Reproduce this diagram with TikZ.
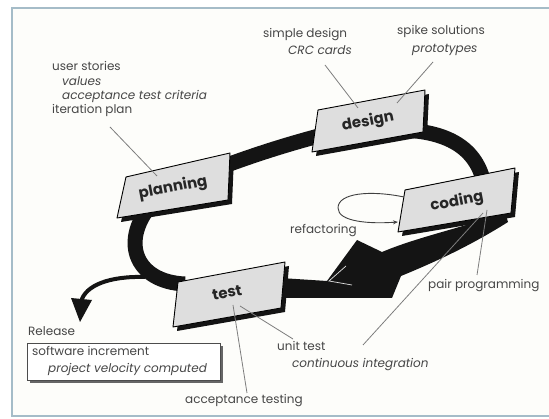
\documentclass[tikz,border=0pt]{standalone}
\usepackage{fontspec}
\setmainfont{Poppins}
\usetikzlibrary{arrows.meta}
\definecolor{frameblue}{RGB}{165,188,200}
\definecolor{paper}{RGB}{253,253,250}
\definecolor{cardfill}{RGB}{222,222,222}
\definecolor{txt}{RGB}{70,70,70}
\definecolor{ptr}{RGB}{125,125,125}
\begin{document}
\begin{tikzpicture}[x=1pt,y=-1pt,
  lbl/.style={font=\fontsize{12}{14}\selectfont, text=txt, inner sep=0pt, anchor=mid west},
  ilbl/.style={lbl, font=\fontsize{12}{14}\selectfont\itshape},
  cardtxt/.style={font=\fontsize{15}{16}\selectfont\bfseries, text=black!85, rotate=11, inner sep=0pt},
  ptrline/.style={draw=ptr, line width=0.8pt},
  band/.style={draw=black!92, line width=15pt},
  cardface/.style={fill=cardfill, draw=black, line width=0.9pt, line join=round},
  cardshadow/.style={fill=black!92}]
\useasboundingbox (0,0) rectangle (549,419);
\fill[white] (0,0) rectangle (549,419);
\draw[frameblue, fill=paper, line width=1.2pt] (12,8) rectangle (600,416);

% loop band
\draw[band] (185,284) .. controls (135,282) and (118,240) .. (155,200);
\draw[band] (200,175) .. controls (240,160) and (280,145) .. (350,128);
\draw[band] (400,130) .. controls (450,131) and (480,150) .. (485,190);
% coding -> test with big arrowhead
\fill[black!92] (265,277) -- (327,281) -- (357,240) -- (382,252)
  .. controls (420,236) and (470,226) .. (505,212) -- (508,222)
  .. controls (470,246) and (435,262) .. (401,276) -- (392,298)
  -- (330,298) -- (265,298) -- cycle;
\draw[white!80!gray, line width=0.7pt] (346,266) -- (329,281) -- (352,285);

% release arrow
\draw[black!92, line width=4pt] (145,277) .. controls (110,276) and (85,285) .. (81,302);
\fill[black!92] (71,298) -- (92,300) -- (80,322) -- cycle;

% cards
\fill[cardshadow] ([shift={(4,4)}]126,177) -- ([shift={(4,4)}]230,153) -- ([shift={(4,4)}]228,200) -- ([shift={(4,4)}]117,218) -- cycle;
\draw[cardface] (126,177) -- (230,153) -- (228,200) -- (117,218) -- cycle;
\node[cardtxt] (planning) at (173,188) {planning};

\fill[cardshadow] ([shift={(4,4)}]318,110) -- ([shift={(4,4)}]425,90) -- ([shift={(4,4)}]423,132) -- ([shift={(4,4)}]312,152) -- cycle;
\draw[cardface] (318,110) -- (425,90) -- (423,132) -- (312,152) -- cycle;
\node[cardtxt] (design) at (368,122) {design};

\fill[cardshadow] ([shift={(4,4)}]405,190) -- ([shift={(4,4)}]515,168) -- ([shift={(4,4)}]511,213) -- ([shift={(4,4)}]398,232) -- cycle;
\draw[cardface] (405,190) -- (515,168) -- (511,213) -- (398,232) -- cycle;
\node[cardtxt] (coding) at (457,202) {coding};

\fill[cardshadow] ([shift={(4,4)}]178,282) -- ([shift={(4,4)}]285,262) -- ([shift={(4,4)}]281,308) -- ([shift={(4,4)}]173,327) -- cycle;
\draw[cardface] (178,282) -- (285,262) -- (281,308) -- (173,327) -- cycle;
\node[cardtxt] (test) at (227,293) {test};

% labels
\node[lbl]  (us)  at (52,68)  {user stories};
\node[ilbl] (val) at (62,83)  {values};
\node[ilbl] (atc) at (62,97)  {acceptance test criteria};
\node[lbl]  (ip)  at (52,111) {iteration plan};
\node[lbl]  (sd)  at (263,35) {simple design};
\node[ilbl] (crc) at (288,52) {CRC cards};
\node[lbl]  (ss)  at (397,32) {spike solutions};
\node[ilbl] (pt)  at (412,50) {prototypes};
\node[lbl]  (ref) at (290,231) {refactoring};
\node[lbl]  (pp)  at (428,286) {pair programming};
\node[lbl]  (ut)  at (277,348) {unit test};
\node[ilbl] (ci)  at (292,365) {continuous integration};
\node[lbl]  (at)  at (185,401) {acceptance testing};
\node[lbl]  (rel) at (28,333) {Release};

% pointer lines
\coordinate (ipE) at (157,176);
\coordinate (sdS) at (325,65);  \coordinate (sdE) at (358,108);
\coordinate (ssS) at (433,62);  \coordinate (ssE) at (397,103);
\coordinate (ppS) at (487,210); \coordinate (ppE) at (477,275);
\coordinate (ciS) at (483,213); \coordinate (ciE) at (363,345);
\coordinate (utS) at (240,306); \coordinate (utE) at (293,339);
\coordinate (atS) at (233,305); \coordinate (atE) at (247,393);
\draw[ptrline] (110,127) -- (ipE);
\draw[ptrline] (sdS) -- (sdE);
\draw[ptrline] (ssS) -- (ssE);
\draw[ptrline] (ppS) -- (ppE);
\draw[ptrline] (ciS) -- (ciE);
\draw[ptrline] (utS) -- (utE);
\draw[ptrline] (atS) -- (atE);

% refactoring loop
\draw[black!75, line width=0.9pt, -{Stealth[length=5pt,width=4pt]}]
  (404,197) .. controls (370,190) and (338,193) .. (338,208)
  .. controls (338,222) and (370,224) .. (398,222);

% release box
\fill[black!60] (30,346) rectangle (223,383);
\draw[black!70, fill=white, line width=0.8pt] (27,343) rectangle (220,380);
\node[lbl]  (si) at (32,353) {software increment};
\node[ilbl] (pv) at (48,370) {project velocity computed};
\end{tikzpicture}
\end{document}
